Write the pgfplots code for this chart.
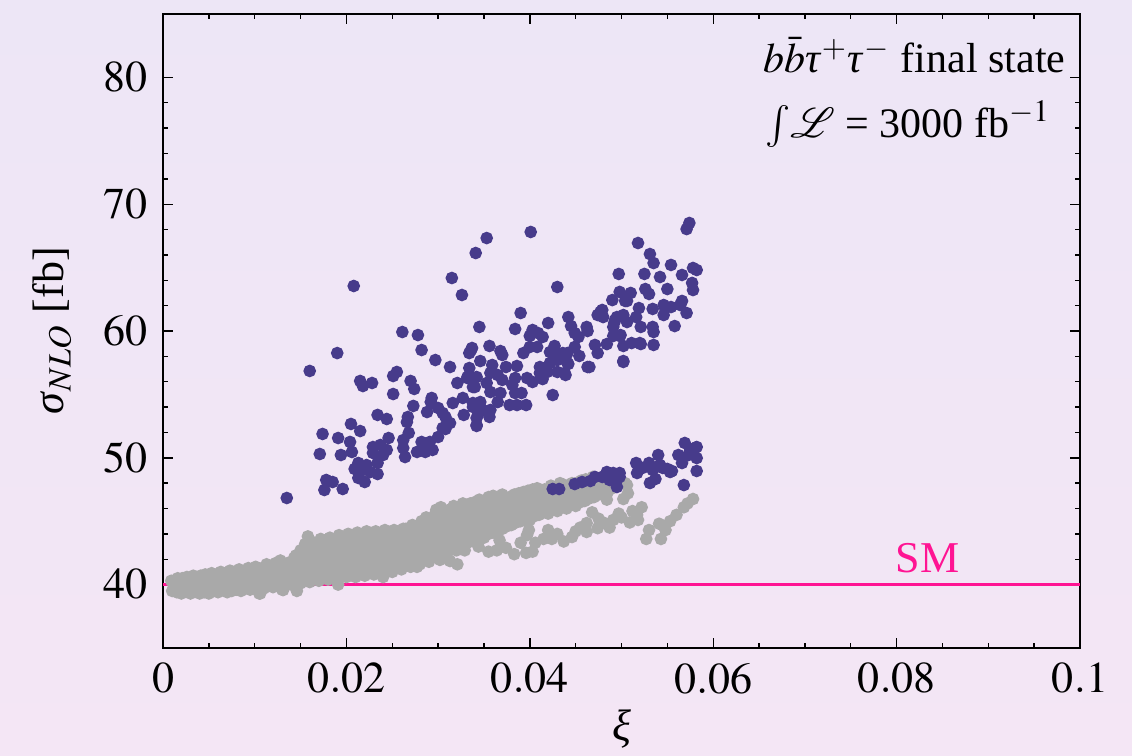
\documentclass[border=0pt]{standalone}
\usepackage{mathptmx}
\usepackage{fontspec}
\setmainfont{Liberation Serif}
\usepackage{pgfplots}
\pgfplotsset{compat=1.18}
\definecolor{bgtop}{RGB}{237,230,246}
\definecolor{bgbot}{RGB}{244,230,245}
\definecolor{ptblue}{RGB}{71,59,139}
\definecolor{ptgray}{RGB}{169,169,169}
\definecolor{smpink}{RGB}{255,20,147}
\begin{document}
\fontsize{11bp}{13bp}\selectfont
\begin{tikzpicture}
\shade[top color=bgtop, bottom color=bgbot] (-40.75bp,-27bp) rectangle (242.25bp,162bp);
\begin{axis}[
  at={(0,0)}, anchor=south west,
  scale only axis, width=229.25bp, height=158.5bp,
  xmin=0, xmax=0.1, ymin=35, ymax=85,
  xtick={0,0.02,0.04,0.06,0.08,0.1},
  ytick={40,50,60,70,80},
  minor x tick num=3, minor y tick num=4,
  scaled x ticks=false,
  xticklabel style={/pgf/number format/fixed,/pgf/number format/precision=2},
  tick align=inside,
  major tick length=2.5bp, minor tick length=1.3bp,
  tick style={black, line width=0.35pt},
  axis line style={black, line width=0.4pt},
  xlabel={\textit{ξ}}, ylabel={\textit{σ}$_{NLO}$ [fb]},
  xlabel style={at={(axis description cs:0.5,-0.128)}, anchor=center},
  ylabel style={at={(axis description cs:-0.121,0.5)}, anchor=center},
  clip=true,
]
\addplot[only marks, mark=*, mark size=1.38bp, color=ptgray] coordinates {
(0.0010,39.5)(0.0012,39.9)(0.0009,40.3)
(0.0015,39.4)(0.0017,39.8)(0.0014,40.2)(0.0016,40.5)
(0.0020,39.3)(0.0022,39.7)(0.0019,40.1)(0.0021,40.5)
(0.0025,39.5)(0.0027,39.9)(0.0024,40.3)(0.0026,40.6)
(0.0030,39.3)(0.0032,39.6)(0.0029,40.0)(0.0031,40.4)(0.0033,40.7)
(0.0035,39.5)(0.0037,39.9)(0.0034,40.3)(0.0036,40.6)
(0.0040,39.3)(0.0042,39.7)(0.0039,40.2)(0.0041,40.7)
(0.0045,39.4)(0.0047,39.8)(0.0044,40.4)(0.0046,40.8)
(0.0050,39.3)(0.0052,39.7)(0.0049,40.1)(0.0051,40.5)(0.0053,40.9)
(0.0055,39.5)(0.0057,40.0)(0.0054,40.4)(0.0056,40.8)
(0.0060,39.4)(0.0062,39.8)(0.0059,40.2)(0.0061,40.6)(0.0063,41.0)
(0.0065,39.6)(0.0067,40.0)(0.0064,40.5)(0.0066,40.9)
(0.0070,39.4)(0.0072,39.9)(0.0069,40.3)(0.0071,40.7)(0.0073,41.1)
(0.0075,39.5)(0.0077,40.1)(0.0074,40.6)(0.0076,41.0)
(0.0080,39.6)(0.0082,40.0)(0.0079,40.4)(0.0081,40.8)(0.0083,41.2)
(0.0085,39.5)(0.0087,39.9)(0.0084,40.5)(0.0086,41.0)
(0.0090,39.7)(0.0092,40.2)(0.0089,40.6)(0.0091,41.0)(0.0093,41.3)
(0.0095,39.6)(0.0097,40.1)(0.0094,40.7)(0.0096,41.2)
(0.0100,39.8)(0.0102,40.3)(0.0099,40.8)(0.0101,41.4)
(0.0105,39.3)(0.0107,39.9)(0.0104,40.4)(0.0106,40.9)(0.0108,41.3)
(0.0110,39.7)(0.0112,40.2)(0.0109,40.6)(0.0111,41.1)(0.0113,41.6)
(0.0115,40.0)(0.0117,40.5)(0.0114,41.0)(0.0116,41.5)
(0.0120,39.8)(0.0122,40.3)(0.0119,40.8)(0.0121,41.3)(0.0123,41.7)
(0.0125,40.1)(0.0127,40.6)(0.0124,41.1)(0.0126,41.6)
(0.0130,39.6)(0.0132,39.9)(0.0129,40.4)(0.0131,40.9)(0.0133,41.4)(0.0128,41.9)
(0.0135,40.2)(0.0137,40.7)(0.0134,41.2)(0.0136,41.7)
(0.0140,40.0)(0.0142,40.5)(0.0139,41.0)(0.0141,41.5)(0.0143,42.1)
(0.0146,39.5)(0.0147,40.3)(0.0144,40.8)(0.0146,41.3)(0.0148,41.9)(0.0145,42.3)
(0.0150,40.1)(0.0152,40.6)(0.0149,41.1)(0.0151,41.6)(0.0153,42.1)(0.0150,42.7)
(0.0155,40.4)(0.0157,40.9)(0.0154,41.4)(0.0156,41.9)(0.0158,42.5)(0.0155,43.2)
(0.0160,40.2)(0.0162,40.7)(0.0159,41.2)(0.0161,41.7)(0.0163,42.2)(0.0160,42.8)(0.0158,43.8)
(0.0165,40.5)(0.0167,41.0)(0.0164,41.5)(0.0166,42.0)(0.0168,42.6)(0.0165,43.3)
(0.0170,40.3)(0.0172,40.8)(0.0169,41.3)(0.0171,41.8)(0.0173,42.4)(0.0170,43.0)(0.0172,43.6)
(0.0175,40.6)(0.0177,41.1)(0.0174,41.6)(0.0176,42.1)(0.0178,42.7)(0.0175,43.3)
(0.0180,40.4)(0.0182,40.9)(0.0179,41.4)(0.0181,41.9)(0.0183,42.5)(0.0180,43.1)(0.0182,43.7)
(0.0185,40.7)(0.0187,41.2)(0.0184,41.8)(0.0186,42.3)(0.0188,42.9)(0.0185,43.4)
(0.0191,40.0)(0.0190,40.5)(0.0192,41.0)(0.0189,41.5)(0.0191,42.0)(0.0193,42.6)(0.0190,43.2)(0.0192,43.9)
(0.0195,40.8)(0.0197,41.3)(0.0194,41.9)(0.0196,42.4)(0.0198,43.0)(0.0195,43.6)
(0.0200,40.6)(0.0202,41.1)(0.0199,41.7)(0.0201,42.2)(0.0203,42.8)(0.0200,43.4)(0.0202,44.0)
(0.0205,40.9)(0.0207,41.4)(0.0204,42.0)(0.0206,42.5)(0.0208,43.1)(0.0205,43.7)
(0.0210,40.6)(0.0212,41.2)(0.0209,41.7)(0.0211,42.3)(0.0213,42.9)(0.0210,43.5)(0.0212,44.1)
(0.0215,40.9)(0.0217,41.5)(0.0214,42.0)(0.0216,42.6)(0.0218,43.2)(0.0215,43.8)
(0.0220,40.7)(0.0222,41.3)(0.0219,41.8)(0.0221,42.4)(0.0223,43.0)(0.0220,43.6)(0.0222,44.2)
(0.0225,41.0)(0.0227,41.6)(0.0224,42.1)(0.0226,42.7)(0.0228,43.3)(0.0225,43.9)
(0.0230,40.8)(0.0232,41.4)(0.0229,41.9)(0.0231,42.5)(0.0233,43.1)(0.0230,43.7)(0.0232,44.2)
(0.0235,41.1)(0.0237,41.7)(0.0234,42.2)(0.0236,42.8)(0.0238,43.4)(0.0235,44.0)
(0.0240,40.6)(0.0242,41.3)(0.0239,41.9)(0.0241,42.5)(0.0243,43.1)(0.0240,43.7)(0.0242,44.3)
(0.0245,41.3)(0.0247,41.9)(0.0244,42.4)(0.0246,42.9)(0.0248,43.5)(0.0245,44.0)
(0.0250,41.0)(0.0252,41.6)(0.0249,42.1)(0.0251,42.7)(0.0253,43.3)(0.0250,43.9)(0.0252,44.3)
(0.0255,41.5)(0.0257,42.0)(0.0254,42.6)(0.0256,43.1)(0.0258,43.6)(0.0255,44.2)
(0.0260,41.2)(0.0262,41.8)(0.0259,42.3)(0.0261,42.9)(0.0263,43.5)(0.0260,44.0)(0.0262,44.4)
(0.0265,41.6)(0.0267,42.1)(0.0264,42.7)(0.0266,43.2)(0.0268,43.8)(0.0265,44.4)
(0.0270,41.4)(0.0272,42.0)(0.0269,42.5)(0.0271,43.0)(0.0273,43.6)(0.0270,44.2)(0.0272,44.7)
(0.0275,41.5)(0.0277,42.2)(0.0274,42.8)(0.0276,43.3)(0.0278,43.9)(0.0275,44.5)
(0.0280,41.6)(0.0282,42.1)(0.0279,42.6)(0.0281,43.2)(0.0283,43.8)(0.0280,44.4)(0.0282,45.0)
(0.0285,42.0)(0.0287,42.5)(0.0284,43.0)(0.0286,43.6)(0.0288,44.2)(0.0285,44.8)(0.0287,45.3)
(0.0290,41.8)(0.0292,42.3)(0.0289,42.9)(0.0291,43.4)(0.0293,44.0)(0.0290,44.6)(0.0292,45.2)
(0.0295,42.2)(0.0297,42.8)(0.0294,43.3)(0.0296,43.9)(0.0298,44.5)(0.0295,45.1)(0.0297,45.6)
(0.0300,42.3)(0.0302,42.9)(0.0299,43.5)(0.0301,44.1)(0.0303,44.7)(0.0300,45.3)(0.0298,45.9)
(0.0305,42.6)(0.0307,43.2)(0.0304,43.8)(0.0306,44.4)(0.0308,45.0)(0.0305,45.6)(0.0303,46.1)
(0.0310,42.5)(0.0312,43.1)(0.0309,43.7)(0.0311,44.3)(0.0313,44.9)(0.0310,45.5)(0.0312,45.9)
(0.0315,42.8)(0.0317,43.4)(0.0314,44.0)(0.0316,44.6)(0.0318,45.2)(0.0315,45.8)(0.0317,46.2)
(0.0320,42.7)(0.0322,43.3)(0.0319,43.9)(0.0321,44.5)(0.0323,45.1)(0.0320,45.7)(0.0322,46.1)
(0.0325,43.0)(0.0327,43.6)(0.0324,44.2)(0.0326,44.8)(0.0328,45.4)(0.0325,46.0)(0.0327,46.4)
(0.0330,43.2)(0.0332,43.8)(0.0329,44.4)(0.0331,45.0)(0.0333,45.6)(0.0330,46.2)
(0.0335,43.4)(0.0337,44.0)(0.0334,44.6)(0.0336,45.2)(0.0338,45.8)(0.0335,46.4)
(0.0340,43.5)(0.0342,44.1)(0.0339,44.7)(0.0341,45.3)(0.0343,45.9)(0.0340,46.5)
(0.0345,43.8)(0.0347,44.4)(0.0344,45.0)(0.0346,45.6)(0.0348,46.2)(0.0345,46.7)
(0.0350,43.7)(0.0352,44.3)(0.0349,44.9)(0.0351,45.5)(0.0353,46.1)(0.0350,46.6)
(0.0355,44.0)(0.0357,44.6)(0.0354,45.2)(0.0356,45.8)(0.0358,46.4)(0.0355,46.9)
(0.0360,44.1)(0.0362,44.7)(0.0359,45.3)(0.0361,45.9)(0.0363,46.5)(0.0360,47.0)
(0.0365,44.3)(0.0367,44.9)(0.0364,45.5)(0.0366,46.1)(0.0368,46.7)
(0.0370,44.4)(0.0372,45.0)(0.0369,45.6)(0.0371,46.2)(0.0373,46.8)(0.0370,47.1)
(0.0375,44.6)(0.0377,45.2)(0.0374,45.8)(0.0376,46.4)(0.0378,46.9)
(0.0380,44.7)(0.0382,45.3)(0.0379,45.9)(0.0381,46.5)(0.0383,47.1)
(0.0385,44.9)(0.0387,45.5)(0.0384,46.1)(0.0386,46.7)(0.0388,47.2)
(0.0390,45.0)(0.0392,45.6)(0.0389,46.2)(0.0391,46.8)(0.0393,47.3)
(0.0395,45.2)(0.0397,45.8)(0.0394,46.4)(0.0396,47.0)(0.0398,47.4)
(0.0400,45.1)(0.0402,45.7)(0.0399,46.3)(0.0401,46.9)(0.0403,47.5)
(0.0405,45.4)(0.0407,46.0)(0.0404,46.6)(0.0406,47.2)(0.0408,47.6)
(0.0410,45.5)(0.0412,46.1)(0.0409,46.7)(0.0411,47.3)
(0.0415,45.7)(0.0417,46.3)(0.0414,46.9)(0.0416,47.5)
(0.0420,45.6)(0.0422,46.2)(0.0419,46.8)(0.0421,47.4)(0.0423,47.8)
(0.0425,45.9)(0.0427,46.5)(0.0424,47.1)(0.0426,47.7)
(0.0430,45.8)(0.0432,46.4)(0.0429,47.0)(0.0431,47.6)(0.0433,48.0)
(0.0435,46.1)(0.0437,46.7)(0.0434,47.3)(0.0436,47.9)
(0.0440,46.0)(0.0442,46.6)(0.0439,47.2)(0.0441,47.8)
(0.0445,46.3)(0.0447,46.9)(0.0444,47.5)(0.0446,48.0)
(0.0450,46.2)(0.0452,46.8)(0.0449,47.4)(0.0451,48.0)
(0.0455,46.5)(0.0457,47.1)(0.0454,47.7)(0.0456,48.2)
(0.0460,46.6)(0.0462,47.2)(0.0459,47.8)(0.0461,48.3)
(0.0465,46.8)(0.0467,47.4)(0.0464,48.0)(0.0469,48.5)
(0.0470,46.9)(0.0472,47.5)(0.0469,48.1)
(0.0475,47.1)(0.0477,47.7)(0.0474,48.2)
(0.0480,47.2)(0.0482,47.8)(0.0479,48.3)
(0.0485,47.3)(0.0487,47.8)(0.0490,47.6)(0.0492,48.1)
(0.0502,46.75)(0.0506,47.85)(0.0484,46.7)(0.0482,47.5)(0.0507,47.2)(0.0504,48.0)
(0.0244,41.3)(0.0273,41.55)(0.0277,41.4)(0.0302,41.95)(0.0313,41.86)(0.0321,41.6)
(0.0297,42.97)(0.0311,42.7)(0.0329,42.7)(0.0344,43.0)(0.0364,42.7)(0.0383,42.4)
(0.0396,42.5)(0.0403,42.6)(0.0397,43.9)(0.0406,43.3)(0.0415,43.6)(0.0424,43.6)
(0.0437,43.4)(0.0446,43.75)(0.0450,44.2)(0.0462,44.15)(0.0462,44.85)(0.0474,44.45)
(0.0468,45.7)(0.0487,44.5)(0.0491,45.1)(0.0497,45.6)(0.0509,44.9)(0.0517,45.5)
(0.0522,46.1)(0.0518,45.1)(0.0527,43.6)(0.0543,43.6)(0.0541,44.8)(0.0553,45.0)
(0.0568,46.1)(0.0578,46.75)(0.0399,44.3)(0.0384,44.9)(0.0367,43.5)(0.0131,39.57)(0.0106,39.3)
(0.0355,42.6)(0.0374,42.9)(0.0390,43.3)(0.0420,44.3)(0.0430,44.0)(0.0455,44.5)
(0.0475,45.2)(0.0480,44.9)(0.0500,45.3)(0.0512,45.8)(0.0530,44.3)(0.0548,44.3)
(0.0560,45.5)(0.0572,46.4)
};
\addplot[only marks, mark=*, mark size=1.38bp, color=ptblue] coordinates {
(0.0208,63.55)(0.0315,64.18)(0.0326,62.84)(0.0345,60.32)(0.0261,59.92)(0.0278,59.68)
(0.0190,58.26)(0.0282,58.50)(0.0297,57.71)(0.0313,57.16)(0.0336,58.50)(0.0346,57.63)
(0.0160,56.85)(0.0215,56.06)(0.0218,55.66)(0.0228,55.90)(0.0255,56.77)(0.0251,56.45)
(0.0270,56.06)(0.0274,55.43)(0.0251,55.03)(0.0293,54.72)(0.0292,54.40)(0.0334,57.08)
(0.0332,56.29)(0.0321,55.90)(0.0340,55.58)(0.0273,54.09)(0.0316,54.32)(0.0327,54.72)
(0.0338,54.32)(0.0346,54.01)(0.0300,53.93)(0.0288,53.61)(0.0305,53.53)(0.0328,53.38)
(0.0344,53.53)(0.0234,53.38)(0.0244,53.06)(0.0267,53.22)(0.0266,52.82)(0.0205,52.67)
(0.0215,52.11)(0.0310,52.74)(0.0308,52.27)(0.0342,52.59)(0.0174,51.88)(0.0191,51.56)
(0.0204,51.25)(0.0246,51.56)(0.0262,51.40)(0.0268,51.96)(0.0282,51.25)(0.0291,51.25)
(0.0300,51.64)(0.0229,50.85)(0.0237,51.01)(0.0244,50.62)(0.0262,50.77)(0.0277,50.46)
(0.0286,50.46)(0.0294,50.62)(0.0171,50.30)(0.0194,50.22)(0.0206,50.46)(0.0229,50.38)
(0.0240,50.22)(0.0264,50.06)(0.0213,49.59)(0.0222,49.43)(0.0209,49.12)(0.0218,49.04)
(0.0226,48.88)(0.0234,49.59)(0.0234,48.72)(0.0213,48.41)(0.0220,48.09)(0.0178,48.25)
(0.0185,48.09)(0.0176,47.46)(0.0196,47.54)(0.0135,46.83)
(0.0353,67.33)(0.0401,67.81)(0.0341,66.15)(0.0430,63.47)(0.0518,66.94)(0.0531,66.07)
(0.0535,65.36)(0.0497,64.50)(0.0525,64.50)(0.0498,63.08)(0.0510,63.00)(0.0526,63.31)
(0.0530,62.92)(0.0504,62.37)(0.0490,62.44)(0.0519,61.81)(0.0534,61.74)(0.0390,61.42)
(0.0477,61.50)(0.0480,61.10)(0.0493,60.87)(0.0502,61.26)(0.0516,61.10)(0.0491,60.32)
(0.0521,60.32)(0.0534,60.32)(0.0384,60.16)(0.0420,60.63)(0.0442,61.10)(0.0445,60.39)
(0.0403,60.08)(0.0400,59.61)(0.0409,59.84)(0.0414,59.53)(0.0449,59.84)(0.0462,60.32)
(0.0463,60.00)(0.0453,59.53)(0.0491,59.61)(0.0498,59.61)(0.0471,58.90)(0.0484,58.97)
(0.0502,58.82)(0.0511,59.05)(0.0521,58.97)(0.0535,58.90)(0.0474,58.26)(0.0356,58.82)
(0.0337,58.66)(0.0334,58.26)(0.0368,58.42)(0.0370,58.11)(0.0393,58.26)(0.0400,58.74)
(0.0408,58.74)(0.0427,58.82)(0.0422,58.34)(0.0449,58.74)(0.0454,58.03)(0.0430,58.11)
(0.0441,58.26)(0.0502,57.56)(0.0463,57.16)(0.0359,57.32)(0.0374,57.16)(0.0386,57.24)
(0.0411,57.16)(0.0422,57.48)(0.0430,57.71)(0.0442,57.40)(0.0430,56.77)(0.0439,56.53)
(0.0419,56.77)(0.0411,56.69)(0.0397,56.29)(0.0403,55.98)(0.0414,56.21)(0.0384,56.29)
(0.0381,55.74)(0.0370,56.14)(0.0357,56.69)(0.0365,56.53)(0.0353,55.90)(0.0342,56.37)
(0.0332,56.37)(0.0338,55.58)(0.0391,55.11)(0.0384,55.11)(0.0368,55.11)(0.0357,55.19)
(0.0425,54.95)(0.0346,54.40)(0.0365,54.40)(0.0378,54.16)(0.0396,54.16)(0.0386,54.16)
(0.0338,54.01)(0.0348,53.77)(0.0357,53.77)(0.0356,53.22)(0.0342,52.51)(0.0342,53.14)
(0.0308,53.22)(0.0313,52.74)(0.0305,52.35)
(0.0574,68.52)(0.0571,68.04)(0.0554,65.21)(0.0578,64.97)(0.0582,64.81)(0.0566,64.42)
(0.0542,64.26)(0.0577,63.79)(0.0578,63.23)(0.0550,63.31)(0.0506,62.37)(0.0566,62.37)
(0.0546,62.05)(0.0554,61.89)(0.0564,62.05)(0.0546,61.26)(0.0571,61.42)(0.0479,61.66)
(0.0474,61.26)(0.0495,61.10)(0.0506,60.71)(0.0492,60.63)(0.0535,59.92)(0.0558,60.39)
(0.0499,59.68)(0.0520,59.05)(0.0502,57.63)(0.0465,57.16)(0.0436,58.26)(0.0441,57.48)
(0.0438,56.69)
(0.0425,47.54)(0.0432,47.54)(0.0449,47.93)(0.0457,48.09)(0.0466,48.17)(0.0471,48.49)
(0.0479,48.49)(0.0484,48.88)(0.0491,48.80)(0.0487,48.25)(0.0496,48.41)(0.0498,48.80)
(0.0495,47.70)(0.0516,49.59)(0.0517,48.80)(0.0523,49.20)(0.0530,49.59)(0.0531,48.01)
(0.0537,48.33)(0.0540,50.22)(0.0542,49.43)(0.0550,49.12)(0.0555,48.96)(0.0562,50.22)
(0.0566,49.59)(0.0569,51.17)(0.0573,50.22)(0.0580,50.77)(0.0582,49.98)(0.0582,48.96)
(0.0568,47.85)(0.0575,50.62)(0.0498,48.49)(0.0534,49.04)(0.0545,49.20)(0.0553,48.88)
(0.0582,50.85)
};
\addplot[smpink, line width=0.85bp] coordinates {(0,40) (0.1,40)};
\node[anchor=base west, font=\fontsize{10.5bp}{12bp}\selectfont] at (axis cs:0.0638,80.35) {$b\bar{b}$\textit{τ}$^{+}$\textit{τ}$^{-}$ final state};
\node[anchor=base west, font=\fontsize{10.5bp}{12bp}\selectfont] at (axis cs:0.0640,75.30) {\smash{$\int$}$\mathcal{L}$ = 3000 fb$^{-1}$};
\node[anchor=base, text=smpink] at (axis cs:0.0834,40.94) {SM};
\end{axis}
\pgfresetboundingbox
\path[use as bounding box] (-40.75bp,-27bp) rectangle (242.25bp,162bp);
\end{tikzpicture}
\end{document}
